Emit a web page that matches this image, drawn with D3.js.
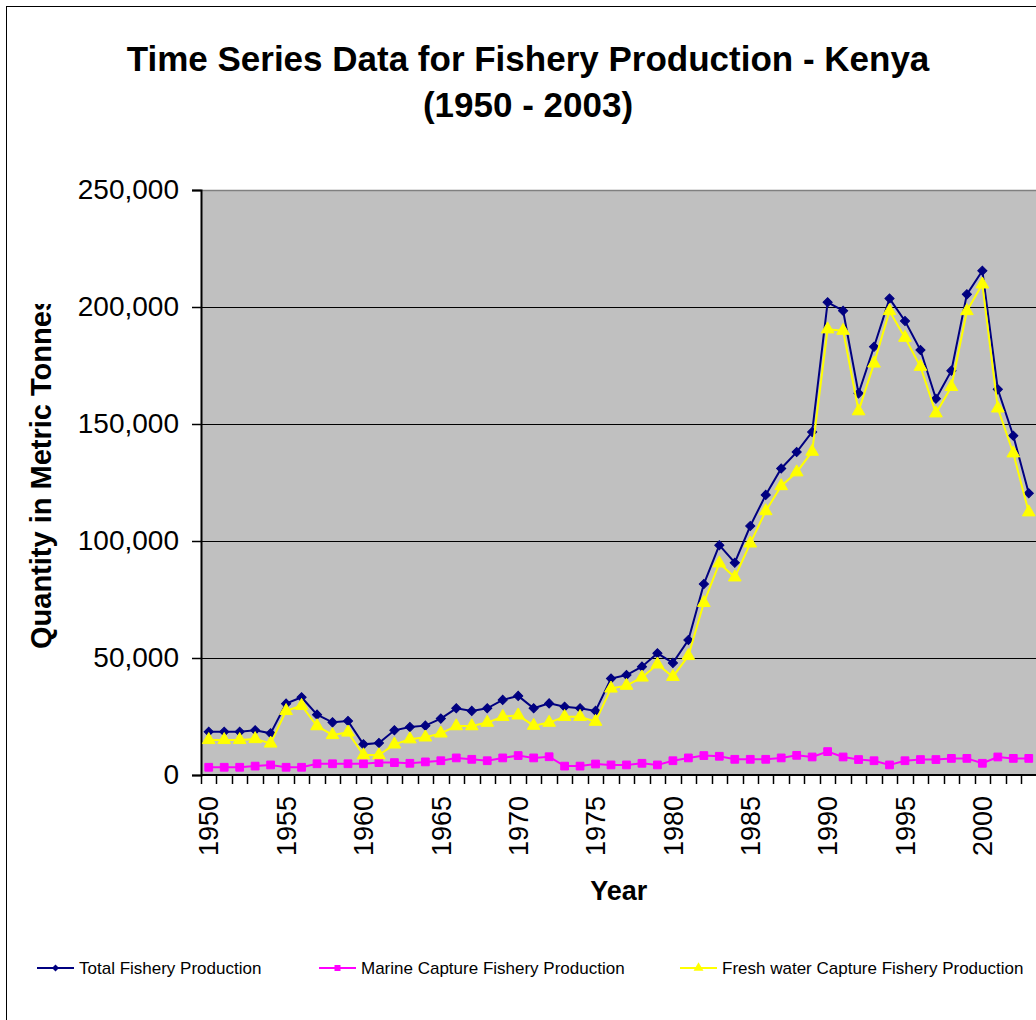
<!DOCTYPE html>
<html>
<head>
<meta charset="utf-8">
<script src="https://cdn.jsdelivr.net/npm/d3@7"></script>
<style>
  body { margin: 0; background: #fff; }
  svg { display: block; font-family: "Liberation Sans", Arial, sans-serif; }
</style>
</head>
<body>
<div id="vis"></div>
<script>
// years 1950 - 2003, values in metric tonnes
const years = d3.range(1950, 2004);

const totalProduction = [
  18500, 18500, 18500, 19100, 17800, 30500, 33200, 25800, 22500, 23100,
  13100, 13700, 19100, 20500, 21100, 24100, 28500, 27400, 28500, 32100,
  33800, 28500, 30600, 29200, 28500, 27400, 41200, 42700, 46300, 52000,
  47900, 57700, 81600, 98200, 90700, 106400, 119700, 131000, 138000, 146600,
  202000, 198400, 163100, 183000, 203600, 194000, 181600, 160800, 172800, 205400,
  215500, 164800, 145000, 120400
];

const marineProduction = [
  3300, 3300, 3300, 3800, 4300, 3300, 3300, 4800, 4800, 4800,
  4800, 5300, 5300, 5000, 5600, 6100, 7300, 6700, 6100, 7300,
  8300, 7300, 7800, 3800, 3800, 4700, 4300, 4300, 5000, 4300,
  6100, 7300, 8300, 8000, 6700, 6700, 6700, 7300, 8400, 7700,
  10000, 7700, 6600, 6100, 4300, 6100, 6600, 6600, 7100, 7100,
  5000, 7700, 7100, 7100
];

const freshwaterProduction = [
  15000, 15000, 15000, 15400, 13500, 27400, 29600, 20900, 17100, 18200,
  8500, 8500, 13100, 15300, 16100, 17800, 20900, 20900, 22400, 24900,
  25500, 21100, 22400, 24900, 24900, 22800, 37000, 38200, 41700, 47300,
  42000, 50900, 73600, 90500, 84500, 99000, 112800, 123500, 129400, 138200,
  190500, 189900, 155500, 175900, 198300, 186900, 174500, 154600, 165900, 198300,
  209700, 156700, 137500, 112300
];

const yTicks = [0, 50000, 100000, 150000, 200000, 250000];
const yearLabels = [1950, 1955, 1960, 1965, 1970, 1975, 1980, 1985, 1990, 1995, 2000];

const seriesNames = [
  'Total Fishery Production',
  'Marine Capture Fishery Production',
  'Fresh water Capture Fishery Production'
];

const width = 1036;
const height = 1020;
const plot = { left: 201, right: 1036.5, top: 190, bottom: 775 };

const series = [
  { name: seriesNames[0], values: totalProduction, color: '#000080', symbol: d3.symbolSquare, size: 42, rot: 45 },
  { name: seriesNames[1], values: marineProduction, color: '#FF00FF', symbol: d3.symbolSquare, size: 60, rot: 0 },
  { name: seriesNames[2], values: freshwaterProduction, color: '#FFFF00', symbol: d3.symbolTriangle, size: 70, rot: 0 }
];

const svg = d3.select('#vis').append('svg')
  .attr('width', width)
  .attr('height', height);

// outer chart frame
svg.append('rect')
  .attr('x', 6.5).attr('y', 6.5)
  .attr('width', width + 20).attr('height', height + 20)
  .attr('fill', 'none').attr('stroke', '#000').attr('stroke-width', 1);

const x = d3.scaleBand()
  .domain(years)
  .range([plot.left, plot.right])
  .padding(0);

const cx = d => x(d) + x.bandwidth() / 2;

const y = d3.scaleLinear()
  .domain([0, 250000])
  .range([plot.bottom, plot.top]);

// plot area
svg.append('rect')
  .attr('x', plot.left).attr('y', plot.top)
  .attr('width', plot.right - plot.left).attr('height', plot.bottom - plot.top)
  .attr('fill', '#C0C0C0');

svg.append('line')
  .attr('x1', plot.left).attr('x2', plot.right)
  .attr('y1', plot.top + 0.5).attr('y2', plot.top + 0.5)
  .attr('stroke', '#808080').attr('stroke-width', 1.5);

// gridlines
svg.append('g')
  .selectAll('line')
  .data(yTicks.filter(t => t > 0 && t < 250000))
  .join('line')
  .attr('x1', plot.left).attr('x2', plot.right)
  .attr('y1', d => Math.round(y(d)) + 0.5).attr('y2', d => Math.round(y(d)) + 0.5)
  .attr('stroke', '#000').attr('stroke-width', 1);

// y axis
const yAxis = svg.append('g')
  .attr('transform', `translate(${plot.left},0)`)
  .call(d3.axisLeft(y)
    .tickValues(yTicks)
    .tickSize(9)
    .tickPadding(13)
    .tickFormat(d3.format(',')));
yAxis.select('.domain').attr('stroke', '#000').attr('stroke-width', 2);
yAxis.selectAll('.tick line').attr('stroke', '#000').attr('stroke-width', 1.5);
yAxis.selectAll('.tick text')
  .attr('font-size', 28)
  .attr('font-family', '"Liberation Sans", Arial, sans-serif')
  .attr('fill', '#000');

// x axis: ticks between categories
svg.append('line')
  .attr('x1', plot.left).attr('x2', plot.right)
  .attr('y1', plot.bottom).attr('y2', plot.bottom)
  .attr('stroke', '#000').attr('stroke-width', 2);

svg.append('g')
  .selectAll('line')
  .data(years)
  .join('line')
  .attr('x1', d => Math.round(x(d)) + 0.5).attr('x2', d => Math.round(x(d)) + 0.5)
  .attr('y1', plot.bottom).attr('y2', plot.bottom + 9)
  .attr('stroke', '#000').attr('stroke-width', 1.5);

svg.append('g')
  .selectAll('text')
  .data(yearLabels)
  .join('text')
  .attr('transform', d => `translate(${cx(d)},${plot.bottom + 21}) rotate(-90)`)
  .attr('text-anchor', 'end')
  .attr('dy', '0.36em')
  .attr('font-size', 27)
  .attr('fill', '#000')
  .text(d => d);

// lines and markers
const line = d3.line()
  .x((d, i) => cx(years[i]))
  .y(d => y(d));

series.forEach(s => {
  const g = svg.append('g');
  g.append('path')
    .datum(s.values)
    .attr('d', line)
    .attr('fill', 'none')
    .attr('stroke', s.color)
    .attr('stroke-width', 2);
  g.selectAll('path.marker')
    .data(s.values)
    .join('path')
    .attr('class', 'marker')
    .attr('d', d3.symbol().type(s.symbol).size(s.size))
    .attr('transform', (d, i) => `translate(${cx(years[i])},${y(d)}) rotate(${s.rot})`)
    .attr('fill', s.color)
    .attr('stroke', s.color)
    .attr('stroke-width', 1);
});

// titles
svg.append('text')
  .attr('x', 528).attr('y', 71)
  .attr('text-anchor', 'middle')
  .attr('font-size', 35).attr('font-weight', 'bold')
  .text('Time Series Data for Fishery Production - Kenya');

svg.append('text')
  .attr('x', 528).attr('y', 117)
  .attr('text-anchor', 'middle')
  .attr('font-size', 35).attr('font-weight', 'bold')
  .text('(1950 - 2003)');

svg.append('text')
  .attr('x', (plot.left + plot.right) / 2).attr('y', 900)
  .attr('text-anchor', 'middle')
  .attr('font-size', 27).attr('font-weight', 'bold')
  .text('Year');

// y title is clipped at the top like in the original
svg.append('clipPath').attr('id', 'ytitle-clip')
  .append('rect')
  .attr('x', 0).attr('y', 304).attr('width', 120).attr('height', 500);

svg.append('g')
  .attr('clip-path', 'url(#ytitle-clip)')
  .append('text')
  .attr('transform', 'translate(51,649) rotate(-90)')
  .attr('text-anchor', 'start')
  .attr('font-size', 29).attr('font-weight', 'bold')
  .text('Quantity in Metric Tonnes');

// legend
const legendX = [37, 319, 680];
const legend = svg.append('g').attr('transform', 'translate(0,968)');
series.forEach((s, i) => {
  const lg = legend.append('g').attr('transform', `translate(${legendX[i]},0)`);
  lg.append('line')
    .attr('x1', 0).attr('x2', 37)
    .attr('y1', 0).attr('y2', 0)
    .attr('stroke', s.color).attr('stroke-width', 2);
  lg.append('path')
    .attr('d', d3.symbol().type(s.symbol).size(s.size * 0.6))
    .attr('transform', `translate(18.5,0) rotate(${s.rot})`)
    .attr('fill', s.color);
  lg.append('text')
    .attr('x', 42).attr('y', 0)
    .attr('dy', '0.35em')
    .attr('font-size', 17)
    .text(s.name);
});
</script>
</body>
</html>
